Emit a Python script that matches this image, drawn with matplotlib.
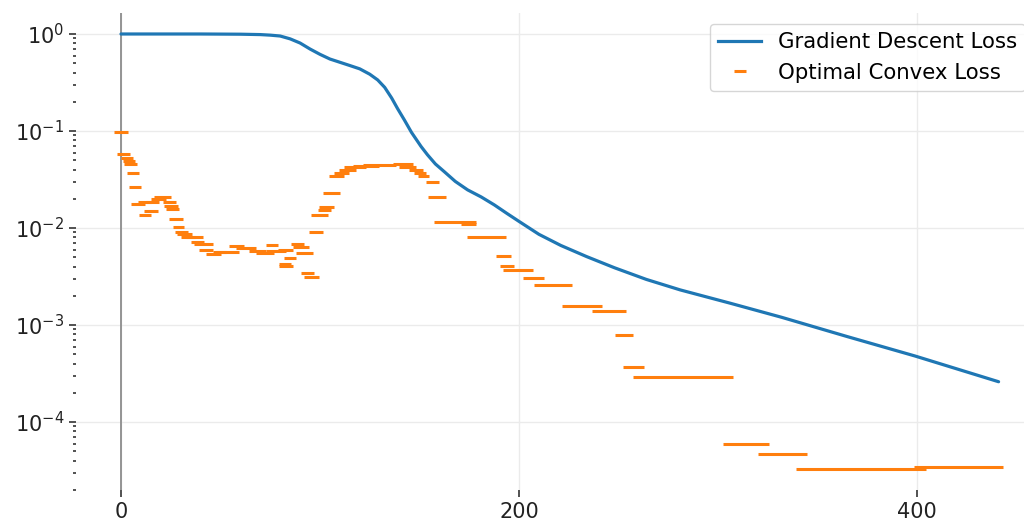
import matplotlib
matplotlib.use("Agg")
import matplotlib.pyplot as plt
from matplotlib.lines import Line2D
import numpy as np

# ---------------- data ----------------
gd_iter = [0, 40, 60, 70, 75, 80, 85, 90, 95, 100, 105, 110, 115, 120, 125,
           129, 132.5, 136, 139, 142.4, 146, 150.8, 154, 158, 162.5, 168,
           174.2, 181, 187.6, 194, 200, 210, 221, 234, 248, 264, 281, 306,
           332, 365, 399, 441]
gd_loss = [1.0, 1.0, 0.995, 0.986, 0.973, 0.953, 0.891, 0.807, 0.700, 0.617,
           0.552, 0.511, 0.473, 0.437, 0.385, 0.336, 0.282, 0.219, 0.170,
           0.130, 0.0966, 0.0692, 0.0569, 0.0457, 0.0380, 0.0302, 0.0247,
           0.0209, 0.0173, 0.0141, 0.0117, 0.00861, 0.00661, 0.00507, 0.00389,
           0.00295, 0.0023, 0.00168, 0.00120, 0.000759, 0.000479, 0.00026]

# optimal convex loss: horizontal dashes (start iteration, end iteration, loss)
conv_start = [-3.4, -2.0, 0.0, 0.9, 1.7, 3.0, 3.9, 5.0, 8.4, 9.2, 11.7, 12.6,
              15.1, 16.7, 21.0, 21.8, 22.6, 24.3, 26.0, 27.3, 28.0, 30.2, 32.7,
              35.2, 36.8, 39.3, 42.7, 46.1, 47.7, 54.4, 57.8, 64.5, 67.8, 72.9,
              72.9, 78.7, 85.4, 86.3, 87.9, 82.1, 79.5, 79.5, 90.5, 92.1, 94.6,
              95.5, 98.8, 99.6, 101.4, 104.7, 107.2, 109.7, 112.2, 116.4, 121.5,
              136.5, 139.7, 144.9, 147.4, 149.1, 153.3, 154.1, 157.4, 170.9,
              173.7, 188.4, 190.6, 191.8, 201.9, 207.4, 221.5, 236.5, 248.4,
              252.3, 257.4, 302.4, 320.3, 339.2, 398.6]
conv_end = [3.4, 4.5, 5.9, 7.2, 8.0, 9.2, 10.2, 12.2, 15.1, 15.1, 18.4, 19.2,
            22.6, 25.1, 27.6, 28.5, 29.3, 31.3, 31.8, 33.5, 35.7, 37.3, 41.1,
            41.6, 46.1, 46.1, 50.3, 52.8, 59.4, 61.9, 67.8, 72.9, 77.0, 78.7,
            82.9, 86.3, 92.1, 94.6, 96.3, 87.9, 85.4, 86.3, 97.1, 99.6, 101.4,
            103.9, 105.5, 107.2, 110.1, 112.2, 114.7, 118.1, 123.1, 129.8, 138.2,
            146.6, 148.2, 151.6, 153.3, 154.9, 159.9, 163.3, 178.4, 178.4,
            193.5, 196.0, 197.3, 206.9, 212.7, 226.6, 241.7, 253.9, 257.4,
            262.7, 307.7, 325.5, 344.6, 404.5, 443.4]
conv_loss = [0.098, 0.0575, 0.0525, 0.049, 0.046, 0.0366, 0.0263, 0.0175,
             0.0187, 0.0136, 0.0151, 0.0187, 0.020, 0.021, 0.0184, 0.0169,
             0.0158, 0.0123, 0.0102, 0.00916, 0.0086, 0.0080, 0.0081, 0.00723,
             0.0068, 0.0060, 0.00536, 0.0057, 0.0057, 0.00652, 0.00617, 0.00583,
             0.0055, 0.0066, 0.00583, 0.0060, 0.0068, 0.0063, 0.0055, 0.0049,
             0.0043, 0.0041, 0.0034, 0.0031, 0.00916, 0.0136, 0.0153, 0.0166,
             0.0231, 0.0344, 0.0372, 0.0396, 0.0423, 0.0436, 0.0447, 0.0457,
             0.0429, 0.0396, 0.0366, 0.0344, 0.0295, 0.0207, 0.0116, 0.0110,
             0.0080, 0.00514, 0.0041, 0.00369, 0.00308, 0.00256, 0.00157,
             0.00139, 0.00079, 0.000366, 0.000289, 5.9e-5, 4.65e-5, 3.27e-5,
             3.43e-5]

x_ticks = [0, 200, 400]
labels = ["Gradient Descent Loss", "Optimal Convex Loss"]

# ---------------- figure ----------------
BLUE = "#1f77b4"
ORANGE = "#ff7f0e"
W, H = 1024, 526
fig = plt.figure(figsize=(W / 100, H / 100), dpi=100)
left, right, top, bottom = 76, 1036, 13, 490
ax = fig.add_axes([left / W, 1 - bottom / H, (right - left) / W, (bottom - top) / H])

ax.set_yscale("log")
ax.set_xlim(-22.6, 459.8)
ax.set_ylim(1.99e-5, 1.646)

for s in ax.spines.values():
    s.set_visible(False)

ax.grid(True, which="major", color="#ebebeb", lw=1.0)
ax.set_axisbelow(True)
ax.axvline(0, color="#8c8c8c", lw=1.3, zorder=1)

ax.plot(gd_iter, gd_loss, color=BLUE, lw=2.3, solid_capstyle="round",
        solid_joinstyle="round", zorder=3)
ax.hlines(conv_loss, conv_start, conv_end, colors=ORANGE, lw=2.2, zorder=2)

ax.set_xticks(x_ticks)
ax.tick_params(axis="both", which="major", labelsize=15, length=5, width=1.2,
               color="#333333", labelcolor="#222222", direction="out")
ax.tick_params(axis="y", which="minor", length=2.5, width=1.2, color="#333333")
ax.tick_params(axis="x", which="minor", length=0)
ax.yaxis.set_minor_locator(matplotlib.ticker.LogLocator(base=10, subs=np.arange(2, 10), numticks=20))
ax.yaxis.set_minor_formatter(matplotlib.ticker.NullFormatter())

handles = [Line2D([], [], color=BLUE, lw=2.3),
           Line2D([], [], color=ORANGE, marker="_", linestyle="none",
                  markersize=9, markeredgewidth=2.2)]
leg = ax.legend(handles, labels, loc="upper right", fontsize=15.3,
                frameon=True, fancybox=True, edgecolor="#cccccc")

fig.savefig("out.png", dpi=100)
